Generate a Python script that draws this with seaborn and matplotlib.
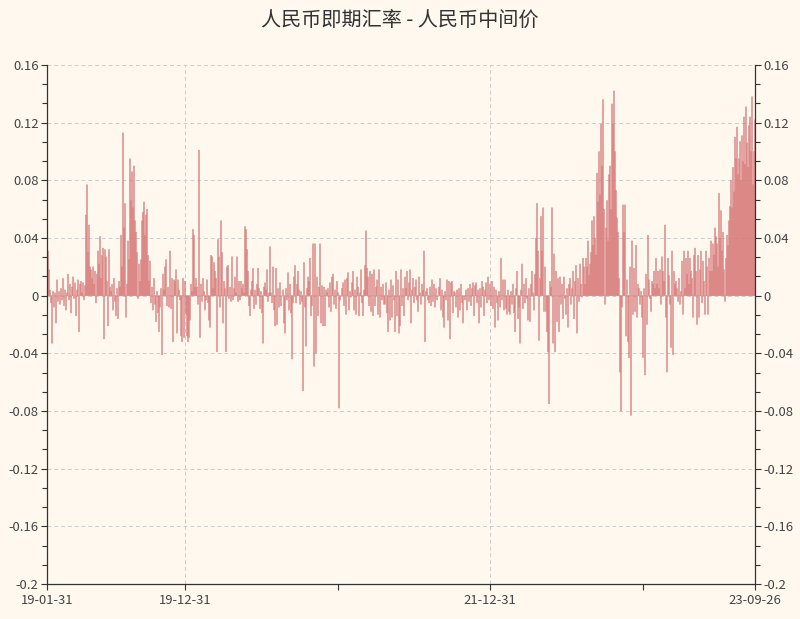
import numpy as np
import pandas as pd
import matplotlib
matplotlib.use("Agg")
import matplotlib.pyplot as plt
import seaborn as sns
from matplotlib.ticker import FixedLocator, AutoMinorLocator, FuncFormatter

# ---- data (spread in thousandths, one bar per column, grouped by year) ----
SCALE = 1000.0
seg_2019 = [3, 31, 18, 4, -5, -33, 3, -8, 2, -19,
            11, -4, 3, -6, 5, -3, 12, -7, 4, -10,
            2, 15, -3, 8, -12, 6, 13, -2, 9, -14,
            4, 11, -25, 8, 10, 2, 9, -3, 7, 56,
            77, 30, 49, 20, 18, 12, 20, 8, 17, -5,
            15, 31, 22, 41, 12, 28, 33, -30, 32, 27,
            10, -21, 32, 6, 3, 8, -10, 12, -4, -14,
            5, -16, 10, 6, 42, 20, 113, 47, 64, -15,
            8, 38, 25, 95, 66, 86, 61, 90, 52, 44,
            30, -2, 22, 10, 25, 52, 58, 65, 42, 56,
            60, 28, 10, 24, -5, 6, -10, 12, -6, -18,
            3, -12, -25, -8, 5, -41,
            15, 4, 20, 25, -7, 6,
            -8, 31, -9, 12, -32, 11, 10, 18,
            -26, 11, 4, -3, -28, -32, 12, -29]
seg_2020 = [10, -13, -28, -32, -29, -17, 8, 3,
            46, 42, 6, 12, 6, -6, 101,
            -29, 8, -4, 12, 3, -10, -3,
            11, -5, -17, -22, 28, 27, 5,
            23, 17, 12, -39, 39, 27, -8,
            52, 30, -19, 10, 5, -39, 20,
            21, -2, 6, -4, 27, -3, 5, 13, 2, 27,
            -4, 10, -3, 10, 5, 8, 2,
            48, 46, 32, 17, -7, -14, 4, 10, 19, -9,
            4, -6, 8, 19, 5, -9, 3, -12, -33, 6,
            9, 4, 18, -4, 2, 34, 2, -5, 20, -10,
            -21, 19, -20, 5, -8, 9, -7, 0, 4, -19,
            -26, 5, -3, 16, -10, 8, -12, -44, -5, 13,
            21, -5, 8, 17, 4, -6, 3, -4, -66, 23,
            -8, -35, 5, 13, 10, 26, -14, -7, 36, -49,
            36, -40, 13, -14, 6, 36, -19, 7, -21, 6,
            -21, 4, 2, 5, -8, 9, -11, 13, 15, -6,
            4, -9, 10]
seg_2021 = [2, -78, -3, 0, 5, 9, -7,
            11, -13, 12, 16, -10, 3, -1, 9, 17, -10,
            4, -13, 13, 6, -14, 2, 18, -5, -14, 4,
            21, 45, 19, 13, -7, 17, -11, 15, -14, 18,
            -7, 6, 11, -13, 18, -15, 6, -3, 8, -6,
            -6, 9, -12, -25, 4, -17, 11, -15, 7, -3,
            -25, 17, -14, 11, -26, -21, 18, -7, 5, -14,
            13, 5, 17, -3, 9, 18, -19, 4, 12, -5,
            6, 11, -3, -11, 13, 2, -6, 8, 4, 31,
            -32, 3, 5, -3, -5, 6, -7, 11, -4, 8,
            -8, 5, -3, 0, 6, 12, -10, 4, -15, -22,
            3, -3, 11, -17, 10, -30, 9, 10, -12, 3,
            2, -8, 4, -15, 5, -10, 8, -5, -19, 0,
            -3, 4, -10, 5, -4, 8, -7, 5, 9, -14,
            7, 9, -5, 4, -19, 5, -8, 10,
            6, -14, 4, 9, -5, 13, -3]
seg_2022 = [8, -7, 10, -9, 6,
            -22, 4, -5, -17, 3, -8, 26, -3, 11, -10,
            11, -9, -13, 4, -11, -13, 3, -6, 8, -12,
            -25, 5, 17, -16, -8, -33, 4, 22, -9, 8,
            -5, 12, -2, -17, 5, -18, 8, 17, 2, -10,
            15, 40, 64, 31, -31, 12, 55, 31, 61, -11,
            20, -11, -25, -39, -75, 10, 6, 61, -33, 29,
            -39, 17, -18, 12, -25, 13, -6, 8, -16, 13,
            -2, -13, 5, -22, 8, 12, -6, 5, 17, -16,
            10, 21, -26, 12, -4, 22, 8, -1, 26, 20,
            8, 26, 20, 38, 14, 22, 30, 52, 35, 55,
            40, 28, 85, 65, 100, 70, 119, 90, 136, 60,
            -6, 47, 66, 38, 84, 90, 60, 133, 119, 142,
            100, 73, 54, 44, 12, -53, -80, -8, 63, 44,
            63, -28, 11, -32, -43, 20, -83, 38, -13, 19,
            -11, 35, -15, 8, 5, -6, 3, -15]
seg_2023 = [-43, 5,
            -55, 15, -20, 42, 11, -2, -11, 10, 8, 17,
            5, 26, 8, 17, 5, 18, -6, 27, 17, 10,
            49, -15, -53, 26, 14, -6, -36, 31, -41, 17,
            8, 10, 5, -4, 12, -6, 3, 24, -13, 31,
            5, 26, 15, 31, 8, 26, 17, 12, -15, 28,
            33, 17, -20, 28, -15, 18, 31, -5, 24, 10,
            -13, 31, 20, -13, 26, 17, 38, 17, 36, 28,
            47, 41, 36, 20, 71, 40, 59, 31, 44, 18,
            -4, 26, 42, 35, 52, 62, 80, 61, 89, 72,
            110, 95, 117, 84, 95, 107, 80, 111, 93, 124,
            91, 131, 106, 89, 118, 124, 100, 138, 77, 100, 122]

segments = [seg_2019, seg_2020, seg_2021, seg_2022, seg_2023]
x_labels = ["19-01-31", "19-12-31", "", "21-12-31", "", "23-09-26"]
y_ticks = [-0.2, -0.16, -0.12, -0.08, -0.04, 0, 0.04, 0.08, 0.12, 0.16]
title = "人民币即期汇率 - 人民币中间价"

values = np.concatenate([np.array(s, dtype=float) for s in segments]) / SCALE
n = len(values)
df = pd.DataFrame({"idx": np.arange(n), "spread": values})

# tick positions: start, year boundaries, end
bounds = np.cumsum([len(s) for s in segments])
tick_pos = [0] + list(bounds[:-1]) + [n - 1]

# ---- style ----
BG = "#fef8ef"
BAR = "#d87c7c"
AX = "#333333"
GRID = "#cccccc"

sns.set_theme(style="white")
plt.rcParams["font.family"] = ["Noto Sans CJK SC", "DejaVu Sans"]
plt.rcParams["axes.unicode_minus"] = False

fig = plt.figure(figsize=(8.0, 6.19), dpi=100, facecolor=BG)
ax = fig.add_axes([47 / 800, 35 / 619, 708 / 800, 519 / 619])
ax.set_facecolor(BG)

sns.barplot(data=df, x="idx", y="spread", native_scale=True, color=BAR,
            saturation=1, width=0.75, linewidth=0.35, edgecolor=BAR,
            errorbar=None, ax=ax)
for p in ax.patches:
    p.set_snap(False)
    p.set_zorder(2)

ax.set_xlim(0, n - 1)
ax.set_ylim(-0.2, 0.16)
ax.set_xlabel("")
ax.set_ylabel("")

# y axis ticks both sides
ax.yaxis.set_major_locator(FixedLocator(y_ticks))
ax.yaxis.set_minor_locator(AutoMinorLocator(3))


def yfmt(v, _):
    r = round(v, 2)
    if abs(r) < 1e-9:
        return "0"
    return f"{r:g}"


ax.yaxis.set_major_formatter(FuncFormatter(yfmt))

# x ticks: labelled major ticks and unlabelled ones
major_idx = [i for i, lab in enumerate(x_labels) if lab]
minor_idx = [i for i, lab in enumerate(x_labels) if not lab]
ax.xaxis.set_major_locator(FixedLocator([tick_pos[i] for i in major_idx]))
ax.set_xticklabels([x_labels[i] for i in major_idx])
ax.xaxis.set_minor_locator(FixedLocator([tick_pos[i] for i in minor_idx]))

ax.tick_params(axis="y", which="both", left=True, right=True,
               labelleft=True, labelright=True, direction="out",
               colors=AX, labelcolor="#444444", labelsize=9.4, width=0.8)
ax.tick_params(axis="y", which="major", length=4.5, pad=1.5)
ax.tick_params(axis="y", which="minor", length=3.5)
ax.tick_params(axis="x", which="both", bottom=True, direction="out",
               length=4, width=0.8, colors=AX, labelcolor="#444444",
               labelsize=9.4, pad=3)

for side in ["left", "right", "bottom"]:
    ax.spines[side].set_visible(True)
    ax.spines[side].set_color(AX)
    ax.spines[side].set_linewidth(0.9)
ax.spines["top"].set_visible(False)

ax.grid(False)
ax.yaxis.grid(True, which="major", color=GRID, linestyle=(0, (4, 3)), linewidth=0.7)
ax.xaxis.grid(True, which="major", color=GRID, linestyle=(0, (4, 3)), linewidth=0.7)
ax.set_axisbelow(True)

fig.text(0.5, 1 - 20 / 619, title, ha="center", va="center",
         fontsize=14.5, color="#333333")

fig.savefig("out.png", dpi=100, facecolor=BG)
